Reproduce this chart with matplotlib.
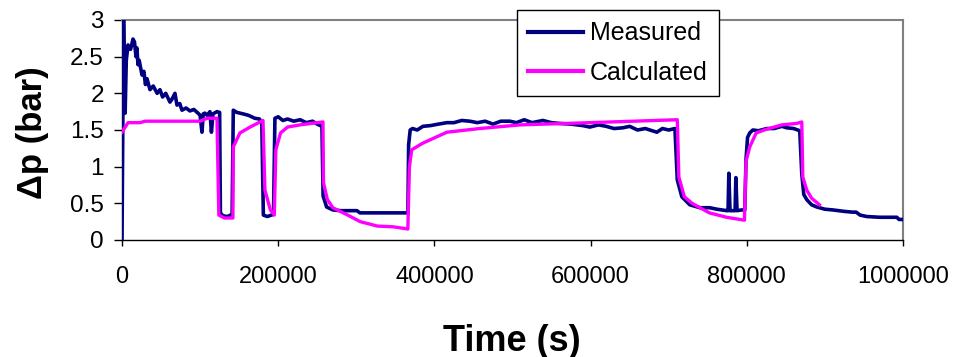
import matplotlib
matplotlib.use("Agg")
import matplotlib.pyplot as plt
from matplotlib.ticker import FixedLocator

# =========================
# data
# =========================
meas_t = [0, 2000, 4000, 5500, 7700, 11000, 14100, 16000, 17900, 19000,
          20500, 22000, 25600, 28000, 30000, 32000, 35800, 40000, 45000, 48600,
          52000, 56000, 61400, 64000, 67800, 70400, 74000, 76800, 82000, 87000,
          92000, 97300, 100000, 102400, 104000, 106200, 109000, 112600, 114500, 116500,
          121600, 125000, 126000, 129000, 135000, 141000, 142500, 147000, 155000, 162000,
          170000, 176000, 179000, 181000, 186000, 194000, 195800, 200000, 206000, 212000,
          220000, 228000, 236000, 244000, 250000, 256000, 257500, 262000, 270000, 280000,
          300800, 304600, 366100, 367000, 369000, 372000, 378000, 385300, 395000, 405000,
          416000, 425000, 435000, 445400, 455000, 465000, 475000, 485000, 496600, 505000,
          515000, 525000, 538900, 550000, 560000, 575000, 590000, 599000, 610000, 620000,
          630000, 641300, 650000, 660000, 670000, 684800, 692000, 700000, 708000, 711000,
          716800, 727000, 740000, 752600, 761600, 774400, 776000, 777000, 778500, 785000,
          786000, 787500, 793600, 797400, 799000, 801000, 803800, 807700, 815000, 825600,
          835000, 845000, 851200, 860000, 867800, 870400, 873000, 876800, 883000, 889600,
          900000, 910100, 925000, 935000, 940000, 945000, 953600, 970000, 992000, 995000,
          1000000]
meas_p = [0.0, 3.0, 1.73, 2.45, 2.66, 2.6, 2.74, 2.7, 2.5, 2.62,
          2.39, 2.45, 2.25, 2.3, 2.12, 2.2, 2.05, 2.1, 2.0, 2.05,
          1.95, 2.0, 1.88, 1.92, 2.0, 1.84, 1.86, 1.77, 1.8, 1.76,
          1.78, 1.73, 1.7, 1.47, 1.72, 1.73, 1.7, 1.75, 1.47, 1.72,
          1.75, 1.74, 0.37, 0.33, 0.32, 0.35, 1.77, 1.74, 1.72, 1.7,
          1.66, 1.65, 1.6, 0.34, 0.32, 0.35, 1.66, 1.68, 1.63, 1.65,
          1.62, 1.64, 1.6, 1.62, 1.58, 1.55, 0.6, 0.45, 0.41, 0.4,
          0.4, 0.37, 0.37, 1.3, 1.5, 1.52, 1.5, 1.55, 1.56, 1.58,
          1.6, 1.6, 1.63, 1.62, 1.6, 1.62, 1.58, 1.62, 1.62, 1.6,
          1.64, 1.6, 1.63, 1.6, 1.59, 1.58, 1.56, 1.54, 1.57, 1.55,
          1.52, 1.53, 1.55, 1.5, 1.52, 1.47, 1.52, 1.5, 1.52, 0.82,
          0.59, 0.48, 0.44, 0.44, 0.42, 0.4, 0.4, 0.91, 0.4, 0.4,
          0.85, 0.4, 0.41, 0.41, 1.1, 1.4, 1.46, 1.5, 1.49, 1.52,
          1.52, 1.55, 1.53, 1.52, 1.49, 0.9, 0.62, 0.55, 0.48, 0.45,
          0.42, 0.41, 0.39, 0.38, 0.38, 0.34, 0.32, 0.31, 0.31, 0.28,
          0.28]

calc_t = [0, 7700, 23000, 29500, 100000, 109000, 121600, 124000, 131000, 142000,
          142500, 151000, 164000, 180500, 183000, 190000, 195000, 197000, 203000, 212000,
          228000, 257300, 258000, 263000, 270000, 289000, 305000, 327000, 347000, 366000,
          368000, 371000, 385000, 416000, 458000, 510000, 570000, 627000, 711000, 713000,
          720000, 730000, 752000, 774000, 797000, 799000, 803800, 812000, 825000, 845000,
          864000, 870400, 871700, 876800, 883000, 893000]
calc_p = [1.47, 1.6, 1.6, 1.62, 1.62, 1.66, 1.66, 0.34, 0.3, 0.3,
          1.27, 1.46, 1.54, 1.63, 0.68, 0.41, 0.34, 1.23, 1.46, 1.54,
          1.57, 1.61, 0.78, 0.55, 0.44, 0.34, 0.25, 0.19, 0.18, 0.15,
          1.0, 1.23, 1.32, 1.47, 1.52, 1.57, 1.59, 1.61, 1.64, 0.86,
          0.59, 0.5, 0.37, 0.31, 0.27, 1.07, 1.27, 1.46, 1.51, 1.57,
          1.59, 1.61, 0.86, 0.68, 0.57, 0.48]

x_ticks = [0, 200000, 400000, 600000, 800000, 1000000]
y_ticks = [0, 0.5, 1, 1.5, 2, 2.5, 3]
y_tick_labels = ["0", "0.5", "1", "1.5", "2", "2.5", "3"]

# =========================
# figure
# =========================
W, H = 956, 357
fig = plt.figure(figsize=(W / 100, H / 100), dpi=100)
ax = fig.add_axes([122 / W, (H - 240) / H, 781 / W, 220 / H])

ax.plot(meas_t, meas_p, color="#000080", lw=2.6, label="Measured", zorder=3)
ax.plot(calc_t, calc_p, color="#FF00FF", lw=2.4, label="Calculated", zorder=4)

ax.set_xlim(0, 1000000)
ax.set_ylim(0, 3)
ax.xaxis.set_major_locator(FixedLocator(x_ticks))
ax.set_xticklabels([str(v) for v in x_ticks], family="Liberation Sans", fontsize=17)
ax.yaxis.set_major_locator(FixedLocator(y_ticks))
ax.set_yticklabels(y_tick_labels, family="Liberation Sans", fontsize=17.5)
ax.tick_params(direction="out", width=1, color="black")
ax.tick_params(axis="x", length=4.5, pad=14)
ax.tick_params(axis="y", length=6, pad=7)

for side in ["top", "right"]:
    ax.spines[side].set_color("#808080")
    ax.spines[side].set_linewidth(1.5)
for side in ["left", "bottom"]:
    ax.spines[side].set_color("black")
    ax.spines[side].set_linewidth(1)

ax.set_ylabel("\u0394p (bar)", family="Liberation Sans", fontsize=25, fontweight="bold")
ax.yaxis.set_label_coords(-0.093, 0.49)
ax.set_xlabel("Time (s)", family="Liberation Sans", fontsize=26, fontweight="bold")
ax.xaxis.set_label_coords(0.4994, -0.38)

leg = ax.legend(loc="upper left", bbox_to_anchor=(517 / W, 1 - 10 / H),
                bbox_transform=fig.transFigure, prop={"family": "Liberation Sans", "size": 18},
                frameon=True, fancybox=False, framealpha=1, edgecolor="black",
                handlelength=2.2, handletextpad=0.25, labelspacing=0.62,
                borderpad=0.45, borderaxespad=0)
leg.get_frame().set_linewidth(1)
for line in leg.get_lines():
    line.set_linewidth(3)
leg.set_zorder(10)

fig.savefig("out.png", dpi=100)
